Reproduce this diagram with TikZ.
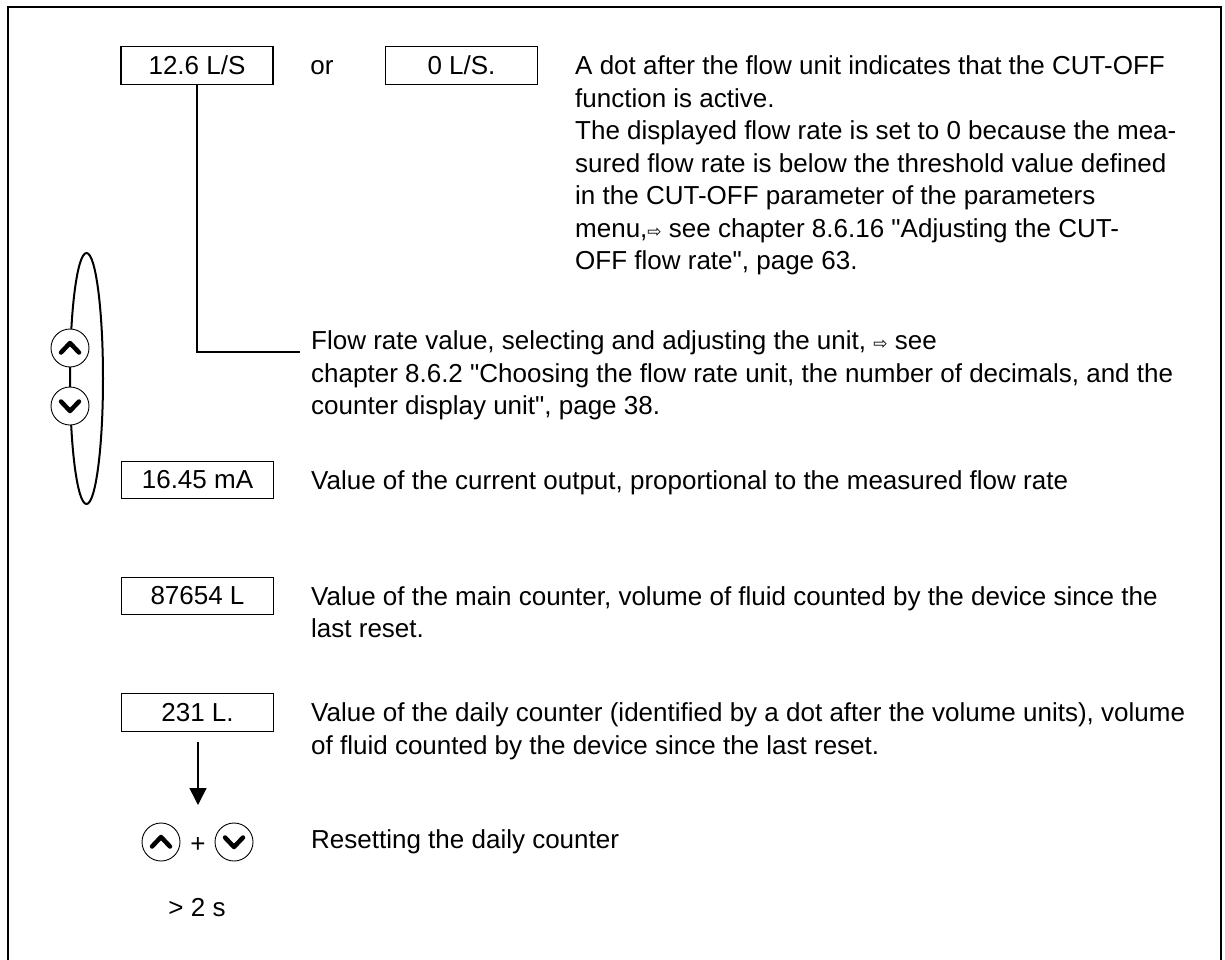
\documentclass[tikz,border=0pt]{standalone}
\usepackage{fontspec}
\setmainfont{Liberation Sans}[Ligatures=TeXOff]
\newfontfamily\dejavu{DejaVu Sans}
\usetikzlibrary{arrows.meta,calc}
\newcommand{\rarr}{{\dejavu\fontsize{17}{17}\selectfont ⇨}}
\begin{document}
\begin{tikzpicture}[x=1pt,y=-1pt,
  lcdbox/.style={draw, line width=1.2pt, minimum width=152pt, minimum height=37.5pt, inner sep=0pt, font=\fontsize{26}{32.5}\selectfont},
  desc/.style={anchor=north west, align=left, inner sep=0pt, font=\fontsize{26}{32.5}\selectfont},
  plain/.style={inner sep=0pt, anchor=base, font=\fontsize{26}{32.5}\selectfont},
  btn/.style={circle, draw, line width=0.9pt, fill=white, minimum size=38pt, inner sep=0pt},
  chev/.style={line width=4.5pt, line cap=round, line join=round},
  conn/.style={line width=1.2pt}]
\useasboundingbox (0,0) rectangle (1225,960);
% frame
\coordinate (fbl) at (8,960);
\coordinate (ftl) at (8,7);
\coordinate (ftr) at (1221,7);
\coordinate (fbr) at (1221,960);
\draw[line width=2pt] (fbl) -- (ftl) -- (ftr) -- (fbr);

% display boxes
\node[lcdbox] (b1) at (197,65.5) {12.6 L/S};
\node[plain] (or) at (322,74.8) {or};
\node[lcdbox] (b2) at (461.5,65.5) {0 L/S.};
\node[lcdbox] (b3) at (197.5,480) {16.45 mA};
\node[lcdbox] (b4) at (197.5,596) {87654 L};
\node[lcdbox] (b5) at (197.5,712.5) {231 L.};

% descriptions
\node[desc] (t1) at (575,52) {\strut A dot after the flow unit indicates that the CUT-OFF\\
function is active.\\
The displayed flow rate is set to 0 because the mea-\\
sured flow rate is below the threshold value defined\\
in the CUT-OFF parameter of the parameters\\
menu,\rarr\ see chapter 8.6.16 "Adjusting the CUT-\\
OFF flow rate", page 63.};
\node[desc] (t2) at (311,326.75) {\strut Flow rate value, selecting and adjusting the unit, \rarr\ see\\
chapter 8.6.2 "Choosing the flow rate unit, the number of decimals, and the\\
counter display unit", page 38.};
\node[desc] (t3) at (311,466.5) {\strut Value of the current output, proportional to the measured flow rate};
\node[desc] (t4) at (311,582.5) {\strut Value of the main counter, volume of fluid counted by the device since the\\
last reset.};
\node[desc] (t5) at (311,699) {\strut Value of the daily counter (identified by a dot after the volume units), volume\\
of fluid counted by the device since the last reset.};
\node[desc] (t6) at (311,826) {\strut Resetting the daily counter};

% connector from first box to its description
\coordinate (c1) at (300,352);
\draw[conn] (b1.south) |- (c1);

% up/down keys with ellipse
\draw[line width=2pt] (86.5,378.5) ellipse [x radius=16.5, y radius=125.5];
\node[btn] (up) at (70,348) {};
\node[btn] (dn) at (70,406) {};
\draw[chev] ($(up.center)+(-9,4.5)$) -- ($(up.center)+(0,-5)$) -- ($(up.center)+(9,4.5)$);
\draw[chev] ($(dn.center)+(-9,-4.5)$) -- ($(dn.center)+(0,5)$) -- ($(dn.center)+(9,-4.5)$);

% arrow to reset keys
\coordinate (a1) at (198,742);
\coordinate (a2) at (198,805);
\draw[line width=1.5pt, -{Triangle[width=17pt,length=17pt]}] (a1) -- (a2);

\node[btn] (up2) at (161,842) {};
\node[plain] (plus) at (198,852) {+};
\node[btn] (dn2) at (234,842) {};
\draw[chev] ($(up2.center)+(-9,4.5)$) -- ($(up2.center)+(0,-5)$) -- ($(up2.center)+(9,4.5)$);
\draw[chev] ($(dn2.center)+(-9,-4.5)$) -- ($(dn2.center)+(0,5)$) -- ($(dn2.center)+(9,-4.5)$);

\node[plain] (time) at (197,916) {> 2 s};
\end{tikzpicture}
\end{document}
